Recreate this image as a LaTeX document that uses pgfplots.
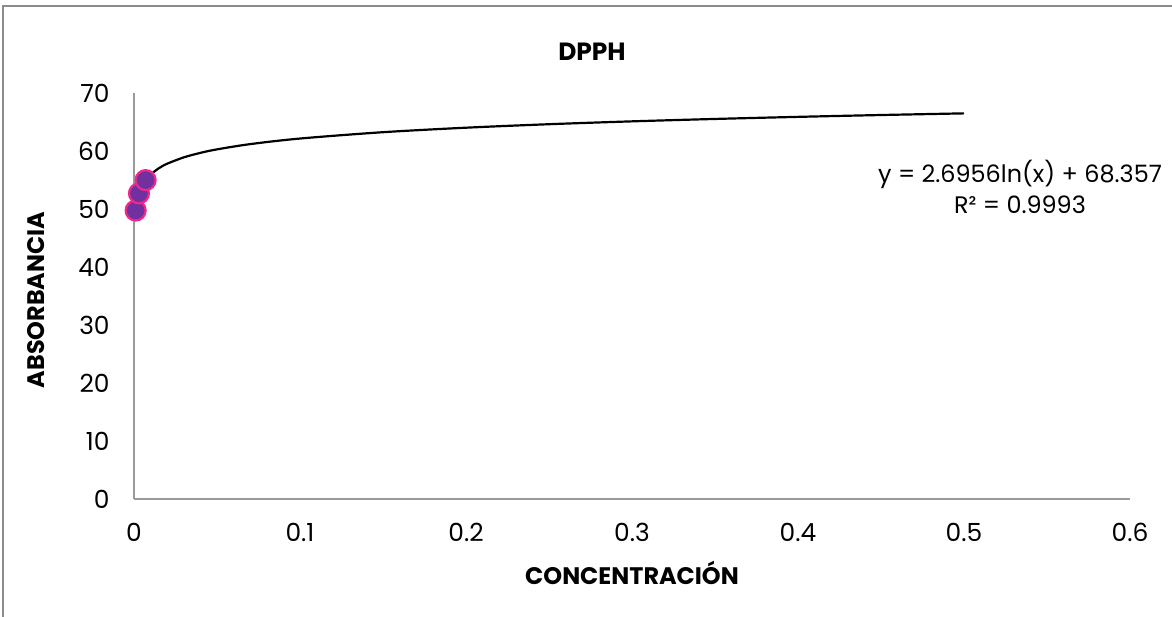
\documentclass[border=0pt]{standalone}
\usepackage{fontspec}
\setmainfont{Poppins}
\usepackage{pgfplots}
\pgfplotsset{compat=1.18}
\definecolor{mkfill}{HTML}{7030A0}
\definecolor{mkedge}{HTML}{F0288C}
\definecolor{axgray}{HTML}{9A9A9A}
\definecolor{framegray}{HTML}{8C8C8C}

\begin{document}
\begin{tikzpicture}
  % page = 1172 x 617 px at 0.5bp per px
  \path[use as bounding box] (0,0) rectangle (586bp,308.5bp);
  \draw[framegray, line width=1bp] (1.5bp,0) -- (1.5bp,305.5bp) -- (586bp,305.5bp);
  \coordinate (origin) at (67bp,59bp);

  \begin{axis}[
    at={(origin)}, anchor=south west,
    scale only axis,
    width=498bp, height=203bp,
    xmin=0, xmax=0.6, ymin=0, ymax=70,
    xtick={0,0.1,...,0.6},
    ytick={0,10,...,70},
    axis lines*=left,
    axis line style={axgray, line width=0.75bp, -},
    tick style={draw=none},
    /pgf/number format/assume math mode=true,
    /pgf/number format/fixed,
    ticklabel style={font=\fontsize{12.5}{14}\selectfont, inner sep=0pt},
    yticklabel style={anchor=east, xshift=-12bp},
    xticklabel style={anchor=north, yshift=-12bp},
    clip=false,
  ]
    % measured points
    \addplot[only marks, mark=*, mark size=5bp,
      mark options={fill=mkfill, draw=mkedge, line width=1.1bp}]
      coordinates {(0.001,49.74) (0.003,52.70) (0.007,54.98)};
    % logarithmic trendline y = 2.6956 ln(x) + 68.357, tabulated
    \addplot[black, line width=1.1bp, smooth, no marks] coordinates {
      (0.001,49.737) (0.0015,50.829) (0.002,51.605) (0.003,52.698)
      (0.005,54.075) (0.0075,55.168) (0.01,55.943) (0.015,57.036)
      (0.02,57.812) (0.03,58.905) (0.04,59.680) (0.05,60.282)
      (0.07,61.189) (0.1,62.150) (0.15,63.243) (0.2,64.019)
      (0.25,64.620) (0.3,65.112) (0.35,65.527) (0.4,65.887)
      (0.45,66.205) (0.5,66.489)
    };
  \end{axis}

  \node[font=\fontsize{12.5}{14}\selectfont\bfseries] at (296bp,282.5bp) {DPPH};
  \node[font=\fontsize{12}{14}\selectfont\bfseries] at (316bp,22bp) {CONCENTRACIÓN};
  \node[font=\fontsize{12}{14}\selectfont\bfseries, rotate=90] at (18bp,158.5bp) {ABSORBANCIA};
  \node[font=\fontsize{12}{15.5}\selectfont, align=center] at (510bp,215bp)
    {y = 2.6956ln(x) + 68.357\\R² = 0.9993};
\end{tikzpicture}
\end{document}
